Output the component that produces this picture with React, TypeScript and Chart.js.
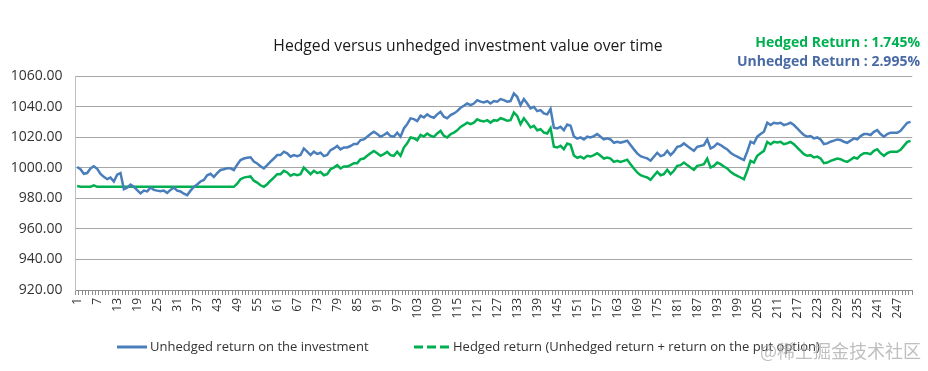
import React, { useEffect, useRef } from 'react';
import { Chart, registerables } from 'chart.js';

Chart.register(...registerables);

const POINT_COUNT = 251;
const categories: string[] = Array.from({ length: POINT_COUNT }, (_, i) => String(i + 1));
const LABEL_EVERY = 6;

const yMin = 920;
const yMax = 1060;
const yStep = 20;

const TITLE = 'Hedged versus unhedged investment value over time';
const HEDGED_NOTE = 'Hedged Return : 1.745%';
const UNHEDGED_NOTE = 'Unhedged Return : 2.995%';
const LEGEND_UNHEDGED = 'Unhedged return on the investment';
const LEGEND_HEDGED = 'Hedged return (Unhedged return + return on the put option)';
const WATERMARK = '@稀土掘金技术社区';

const unhedged: number[] = [
  1000.5, 999.0, 996.0, 996.5, 999.5, 1001.0, 999.3, 996.0, 994.0, 992.5,
  993.5, 991.0, 995.5, 996.5, 986.0, 987.0, 989.0, 987.5, 985.4, 983.2,
  985.0, 984.5, 987.0, 985.5, 985.0, 984.6, 985.0, 983.5, 985.5, 987.0,
  985.0, 984.5, 983.0, 982.0, 985.0, 987.5, 989.0, 991.0, 992.0, 995.0,
  996.0, 994.0, 996.4, 998.5, 999.0, 999.6, 999.6, 998.5, 1002.0, 1005.0,
  1006.0, 1006.5, 1006.8, 1004.0, 1002.8, 1001.0, 999.6, 1001.7, 1004.0, 1006.0,
  1008.3, 1008.3, 1010.5, 1009.4, 1007.2, 1008.3, 1007.6, 1008.3, 1012.6, 1010.5,
  1008.3, 1010.5, 1009.0, 1009.8, 1007.6, 1008.3, 1011.5, 1012.6, 1014.2, 1012.0,
  1013.3, 1013.3, 1014.2, 1015.5, 1015.5, 1018.1, 1018.5, 1020.3, 1022.0, 1023.5,
  1022.0, 1020.3, 1021.4, 1022.9, 1020.7, 1020.3, 1022.9, 1020.3, 1025.7, 1028.5,
  1032.3, 1031.8, 1030.5, 1034.0, 1032.9, 1034.9, 1033.4, 1032.7, 1034.9, 1036.6,
  1033.4, 1032.3, 1034.4, 1035.5, 1037.0, 1039.2, 1040.5, 1042.0, 1041.0, 1042.0,
  1044.2, 1043.2, 1042.7, 1043.6, 1042.0, 1043.6, 1043.2, 1044.9, 1044.2, 1043.2,
  1043.6, 1048.6, 1046.4, 1041.0, 1044.9, 1042.0, 1038.8, 1039.9, 1037.0, 1037.7,
  1035.5, 1034.9, 1038.4, 1026.2, 1025.7, 1026.8, 1024.6, 1028.3, 1027.5, 1020.5,
  1019.0, 1019.8, 1018.5, 1020.3, 1019.8, 1020.7, 1022.0, 1020.3, 1018.5, 1019.2,
  1018.5, 1016.3, 1017.0, 1016.3, 1017.0, 1017.7, 1014.8, 1012.0, 1009.4, 1007.6,
  1006.8, 1006.1, 1004.6, 1007.2, 1009.8, 1007.6, 1008.3, 1011.1, 1008.3, 1010.5,
  1013.7, 1014.2, 1015.9, 1014.2, 1012.6, 1011.1, 1013.7, 1014.2, 1014.8, 1018.5,
  1012.6, 1013.7, 1015.9, 1014.8, 1013.3, 1012.0, 1009.8, 1008.3, 1007.2, 1006.1,
  1005.0, 1010.5, 1017.0, 1015.9, 1020.3, 1022.0, 1023.5, 1029.4, 1027.9, 1029.4,
  1029.0, 1029.4, 1027.9, 1028.5, 1029.4, 1027.9, 1025.7, 1023.5, 1021.4, 1020.3,
  1020.7, 1019.2, 1019.8, 1018.5, 1015.5, 1015.9, 1017.0, 1017.7, 1018.5, 1018.1,
  1017.0, 1016.3, 1017.7, 1019.2, 1018.5, 1020.7, 1022.0, 1022.0, 1021.4, 1023.5,
  1024.6, 1022.0, 1020.3, 1022.0, 1022.9, 1022.9, 1022.9, 1024.2, 1026.8, 1029.4,
  1030.0,
];

const hedged: number[] = [
  988.0, 987.5, 987.5, 987.5, 987.5, 988.5, 987.5, 987.5, 987.5, 987.5,
  987.5, 987.5, 987.5, 987.5, 987.5, 987.5, 987.5, 987.5, 987.5, 987.5,
  987.5, 987.5, 987.5, 987.5, 987.5, 987.5, 987.5, 987.5, 987.5, 987.5,
  987.5, 987.5, 987.5, 987.5, 987.5, 987.5, 987.5, 987.5, 987.5, 987.5,
  987.5, 987.5, 987.5, 987.5, 987.5, 987.5, 987.5, 987.5, 989.5, 992.5,
  993.5, 994.0, 994.3, 991.5, 990.3, 988.5, 987.5, 989.2, 991.5, 993.5,
  995.8, 995.8, 998.0, 996.9, 994.7, 995.8, 995.1, 995.8, 1000.1, 998.0,
  995.8, 998.0, 996.5, 997.3, 995.1, 995.8, 999.0, 1000.1, 1001.7, 999.5,
  1000.8, 1000.8, 1001.7, 1003.0, 1003.0, 1005.6, 1006.0, 1007.8, 1009.5, 1011.0,
  1009.5, 1007.8, 1008.9, 1010.4, 1008.2, 1007.8, 1010.4, 1007.8, 1013.2, 1016.0,
  1019.8, 1019.3, 1018.0, 1021.5, 1020.4, 1022.4, 1020.9, 1020.2, 1022.4, 1024.1,
  1020.9, 1019.8, 1021.9, 1023.0, 1024.5, 1026.7, 1028.0, 1029.5, 1028.5, 1029.5,
  1031.7, 1030.7, 1030.2, 1031.1, 1029.5, 1031.1, 1030.7, 1032.4, 1031.7, 1030.7,
  1031.1, 1036.1, 1033.9, 1028.5, 1032.4, 1029.5, 1026.3, 1027.4, 1024.5, 1025.2,
  1023.0, 1022.4, 1025.9, 1013.7, 1013.2, 1014.3, 1012.1, 1015.8, 1015.0, 1008.0,
  1006.5, 1007.3, 1006.0, 1007.8, 1007.3, 1008.2, 1009.5, 1007.8, 1006.0, 1006.7,
  1006.0, 1003.8, 1004.5, 1003.8, 1004.5, 1005.2, 1002.3, 999.5, 996.9, 995.1,
  994.3, 993.6, 992.1, 994.7, 997.3, 995.1, 995.8, 998.6, 995.8, 998.0,
  1001.2, 1001.7, 1003.4, 1001.7, 1000.1, 998.6, 1001.2, 1001.7, 1002.3, 1006.0,
  1000.1, 1001.2, 1003.4, 1002.3, 1000.8, 999.5, 997.3, 995.8, 994.7, 993.6,
  992.5, 998.0, 1004.5, 1003.4, 1007.8, 1009.5, 1011.0, 1016.9, 1015.4, 1016.9,
  1016.5, 1016.9, 1015.4, 1016.0, 1016.9, 1015.4, 1013.2, 1011.0, 1008.9, 1007.8,
  1008.2, 1006.7, 1007.3, 1006.0, 1003.0, 1003.4, 1004.5, 1005.2, 1006.0, 1005.6,
  1004.5, 1003.8, 1005.2, 1006.7, 1006.0, 1008.2, 1009.5, 1009.5, 1008.9, 1011.0,
  1012.1, 1009.5, 1007.8, 1009.5, 1010.4, 1010.4, 1010.4, 1011.7, 1014.3, 1016.9,
  1017.5,
];

const FONT = '"Open Sans", "Liberation Sans", sans-serif';
const BLUE = '#4a7ebb';
const GREEN = '#00b050';
const NOTE_BLUE = '#4a6aa5';
const TEXT = '#333333';

const overlay = {
  id: 'overlay',
  afterDraw(chart: any) {
    const ctx = chart.ctx as CanvasRenderingContext2D;
    ctx.save();
    ctx.textBaseline = 'middle';

    ctx.fillStyle = '#1a1a1a';
    ctx.font = `15.7px ${FONT}`;
    ctx.textAlign = 'center';
    ctx.fillText(TITLE, 468, 47);

    ctx.font = `bold 14px ${FONT}`;
    ctx.textAlign = 'right';
    ctx.fillStyle = GREEN;
    ctx.fillText(HEDGED_NOTE, 920, 43);
    ctx.fillStyle = NOTE_BLUE;
    ctx.fillText(UNHEDGED_NOTE, 920, 62);

    const ly = 347;
    ctx.lineWidth = 3;
    ctx.strokeStyle = BLUE;
    ctx.setLineDash([]);
    ctx.beginPath();
    ctx.moveTo(117, ly);
    ctx.lineTo(147, ly);
    ctx.stroke();

    ctx.strokeStyle = GREEN;
    ctx.setLineDash([9, 4]);
    ctx.beginPath();
    ctx.moveTo(414, ly);
    ctx.lineTo(450, ly);
    ctx.stroke();
    ctx.setLineDash([]);

    ctx.font = `13px ${FONT}`;
    ctx.textAlign = 'left';
    ctx.fillStyle = TEXT;
    ctx.fillText(LEGEND_UNHEDGED, 150, ly);
    ctx.fillText(LEGEND_HEDGED, 453, ly);

    ctx.font = '18px "Noto Sans CJK SC", sans-serif';
    ctx.textAlign = 'right';
    ctx.fillStyle = 'rgba(170,170,170,0.75)';
    ctx.fillText(WATERMARK, 921, 351);

    ctx.restore();
  },
};

export default function App() {
  const canvasRef = useRef<HTMLCanvasElement | null>(null);

  useEffect(() => {
    document.body.style.margin = '0';
    const canvas = canvasRef.current;
    if (!canvas) return;
    const chart = new Chart(canvas, {
      type: 'line',
      data: {
        labels: categories,
        datasets: [
          {
            label: LEGEND_UNHEDGED,
            data: unhedged,
            borderColor: BLUE,
            backgroundColor: BLUE,
            borderWidth: 2.5,
            pointRadius: 0,
            tension: 0,
          },
          {
            label: LEGEND_HEDGED,
            data: hedged,
            borderColor: GREEN,
            backgroundColor: GREEN,
            borderWidth: 2.5,
            pointRadius: 0,
            tension: 0,
          },
        ],
      },
      options: {
        responsive: false,
        animation: false,
        layout: { padding: { top: 76, right: 8, left: 0, bottom: 0 } },
        plugins: {
          legend: { display: false },
          title: { display: false },
          tooltip: { enabled: false },
        },
        scales: {
          x: {
            type: 'category',
            offset: true,
            grid: {
              drawOnChartArea: false,
              drawTicks: true,
              tickLength: 5,
              color: '#8c8c8c',
              offset: true,
            },
            border: { color: '#8c8c8c', width: 1 },
            ticks: {
              autoSkip: false,
              maxRotation: 90,
              minRotation: 90,
              padding: 3,
              color: TEXT,
              font: { family: FONT, size: 12 },
              callback: (_v: any, i: number) => (i % LABEL_EVERY === 0 ? categories[i] : ''),
            },
            afterFit: (s: any) => {
              s.height = 81;
            },
          },
          y: {
            min: yMin,
            max: yMax,
            ticks: {
              stepSize: yStep,
              padding: 13,
              color: TEXT,
              font: { family: FONT, size: 14 },
              callback: (v: any) => Number(v).toFixed(2),
            },
            grid: { color: '#a6a6a6', drawTicks: false },
            border: { color: '#bfbfbf', width: 1 },
            afterFit: (s: any) => {
              s.width = 75.5;
            },
          },
        },
      },
      plugins: [overlay],
    });
    return () => chart.destroy();
  }, []);

  return <canvas ref={canvasRef} width={928} height={371} style={{ display: 'block' }} />;
}
